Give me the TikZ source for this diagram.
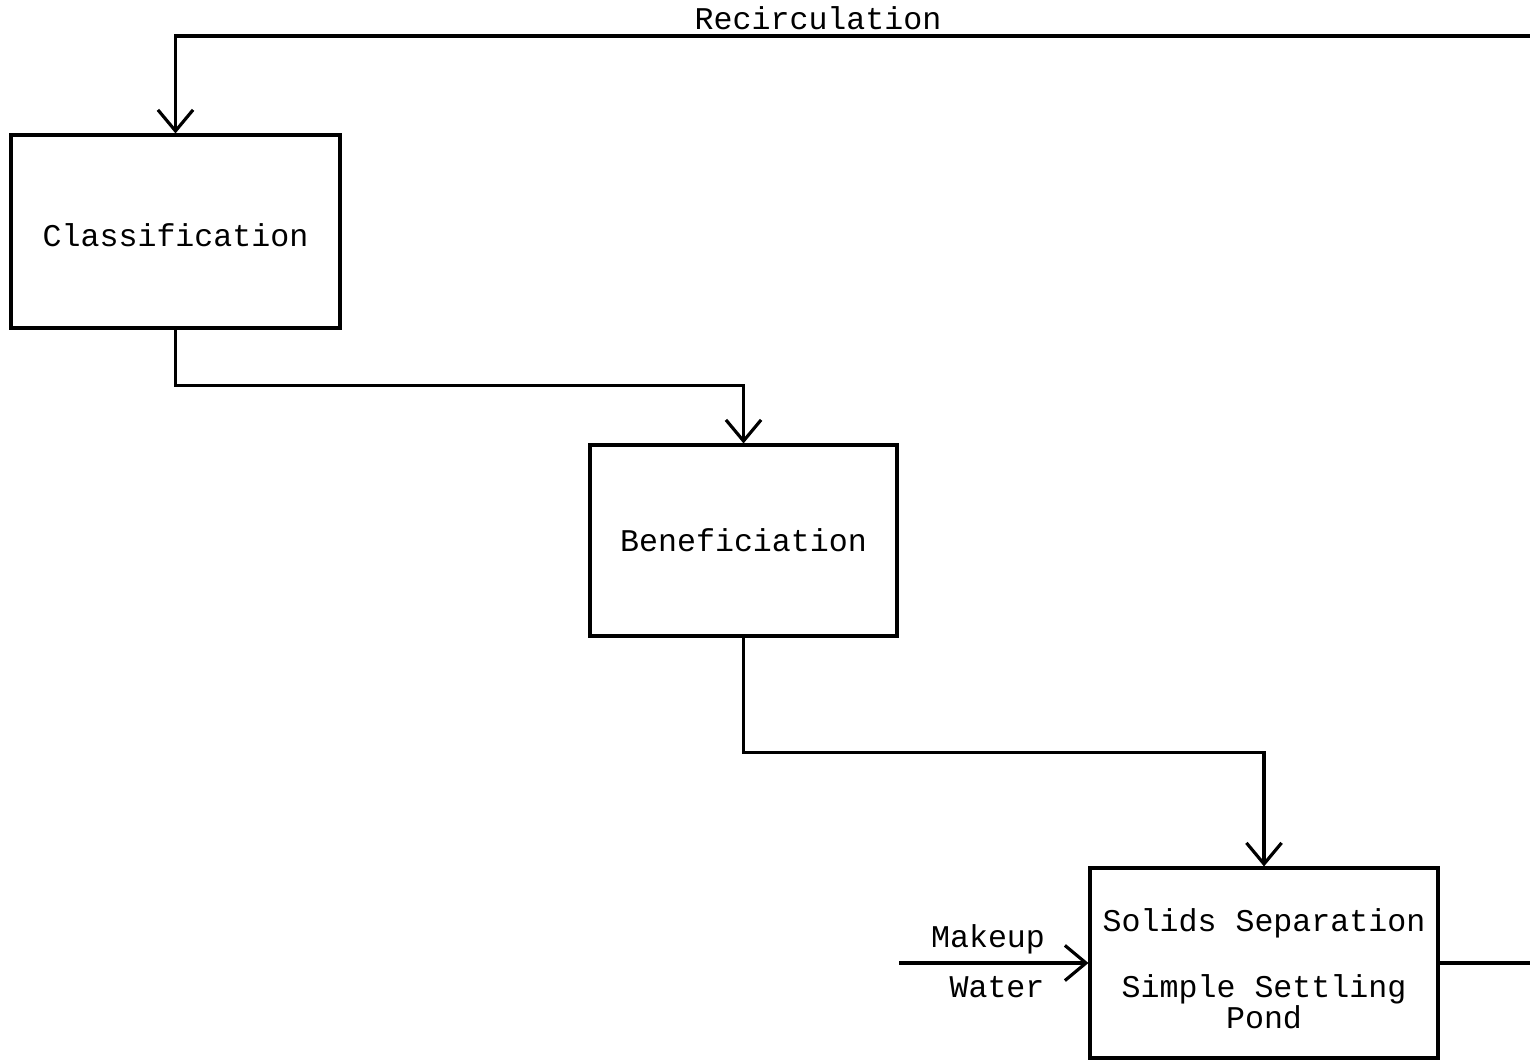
\documentclass[tikz,border=0pt]{standalone}
\usepackage{fontspec}
\setmainfont{Liberation Mono}
\usetikzlibrary{arrows.meta}

\begin{document}
\begin{tikzpicture}[x=0.02cm, y=-0.02cm, line width=1.8pt,
  >={Straight Barb[length=12pt, width=20pt]},
  box/.style={draw, inner sep=0pt, align=center},
  every node/.style={font=\fontsize{18pt}{17.5pt}\selectfont}]

  \useasboundingbox (0,0) rectangle (1530,1060);

  % Process boxes
  \node[box, minimum width=6.58cm, minimum height=3.86cm] (cls) at (175.5,231.5) {};
  \node (clstxt) at ([yshift=-0.08cm]cls.center) {Classification};
  \node[box, minimum width=6.14cm, minimum height=3.82cm] (ben) at (743.5,540.5) {Beneficiation};
  \node[box, minimum width=6.96cm, minimum height=3.80cm] (sol) at (1264,963) {};
  \node[align=center] (soltxt) at ([yshift=-0.12cm]sol.center)
    {Solids Separation\\[20pt]Simple Settling\\Pond};

  % Flow between the stages
  \draw[->] (cls.south) -- ++(0,56) -| (ben.north);
  \draw[->] (ben.south) -- ++(0,115) -| (sol.north);

  % Recirculation back to the top (the return leg runs off the page)
  \coordinate (rtop) at (1545,36);
  \coordinate (rbot) at (sol.east -| rtop);
  \draw[->] (sol.east) -- (rbot) -- (rtop) -| (cls.north);
  \node[anchor=base] (recirc) at (818,30) {Recirculation};

  % Makeup water
  \coordinate (mkin) at (899,963);
  \draw[->] (mkin) -- (sol.west);
  \node (mkup) at (988,939) {Makeup};
  \node (wtr) at (997,987) {Water};

\end{tikzpicture}
\end{document}
